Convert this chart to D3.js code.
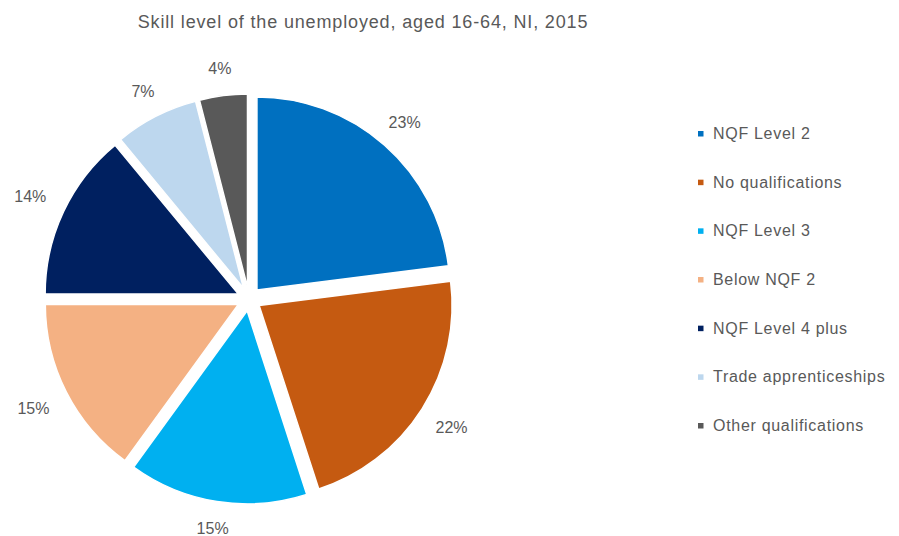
<!DOCTYPE html>
<html>
<head>
<meta charset="utf-8">
<script src="https://cdn.jsdelivr.net/npm/d3@7"></script>
<style>
  html, body { margin: 0; padding: 0; background: #ffffff; }
  svg text { font-family: "Liberation Sans", Arial, sans-serif; fill: #595959; }
</style>
</head>
<body>
<svg id="chart" width="899" height="536"></svg>
<script>
// Skill level of the unemployed, NI 2015 (share of total, %)
const categories = [
  "NQF Level 2",
  "No qualifications",
  "NQF Level 3",
  "Below NQF 2",
  "NQF Level 4 plus",
  "Trade apprenticeships",
  "Other qualifications"
];
const shares = [23, 22, 15, 15, 14, 7, 4];
const sliceColors = ["#0070C0", "#C55A11", "#00B0F0", "#F4B183", "#002060", "#BDD7EE", "#595959"];
const titleText = "Skill level of the unemployed, aged 16-64, NI, 2015";

const data = categories.map((name, i) => ({ name, value: shares[i], color: sliceColors[i] }));

const svg = d3.select("#chart");
const cx = 249, cy = 299;     // pie centre
const radius = 193;           // slice radius
const explode = 12;           // radial offset of every slice
const labelGap = 19;          // gap between slice rim and label box

svg.append("text")
  .attr("x", 363).attr("y", 28)
  .attr("text-anchor", "middle")
  .style("font-size", "18px")
  .style("letter-spacing", "0.85px")
  .text(titleText);

const pie = d3.pie().value(d => d.value).sort(null);
const arcs = pie(data);
const arc = d3.arc().innerRadius(0).outerRadius(radius);

const g = svg.append("g").attr("transform", `translate(${cx},${cy})`);

const mid = d => (d.startAngle + d.endAngle) / 2;

g.selectAll("path.slice")
  .data(arcs)
  .join("path")
  .attr("class", "slice")
  .attr("d", arc)
  .attr("fill", d => d.data.color)
  .attr("stroke", "#ffffff")
  .attr("stroke-width", 1.5)
  .attr("transform", d => {
    const a = mid(d);
    return `translate(${explode * Math.sin(a)},${-explode * Math.cos(a)})`;
  });

// Percentage labels placed just outside each slice, box edge at a fixed gap
const fmt = d => d3.format(".0f")(d.data.value) + "%";
g.selectAll("text.pct")
  .data(arcs)
  .join("text")
  .attr("class", "pct")
  .attr("text-anchor", "middle")
  .attr("dy", "0.35em")
  .style("font-size", "16px")
  .text(fmt)
  .each(function (d) {
    const box = this.getBBox();
    const a = mid(d);
    const sx = Math.abs(Math.sin(a)), sy = Math.abs(Math.cos(a));
    const half = Math.min(sx > 1e-6 ? box.width / 2 / sx : Infinity,
                          sy > 1e-6 ? box.height / 2 / sy : Infinity);
    const dist = radius + explode + labelGap + half;
    d3.select(this)
      .attr("x", dist * Math.sin(a))
      .attr("y", -dist * Math.cos(a));
  });

// Legend
const legendY = d3.scalePoint().domain(categories).range([133.5, 425.5]);
const legend = svg.append("g");
const items = legend.selectAll("g.item")
  .data(data)
  .join("g")
  .attr("class", "item")
  .attr("transform", d => `translate(698,${legendY(d.name)})`);
items.append("rect")
  .attr("x", 0).attr("y", -2.5)
  .attr("width", 5.5).attr("height", 5.5)
  .attr("fill", d => d.color);
items.append("text")
  .attr("x", 15).attr("y", 0).attr("dy", "0.35em")
  .style("font-size", "16px")
  .style("letter-spacing", "0.7px")
  .text(d => d.name);
</script>
</body>
</html>
